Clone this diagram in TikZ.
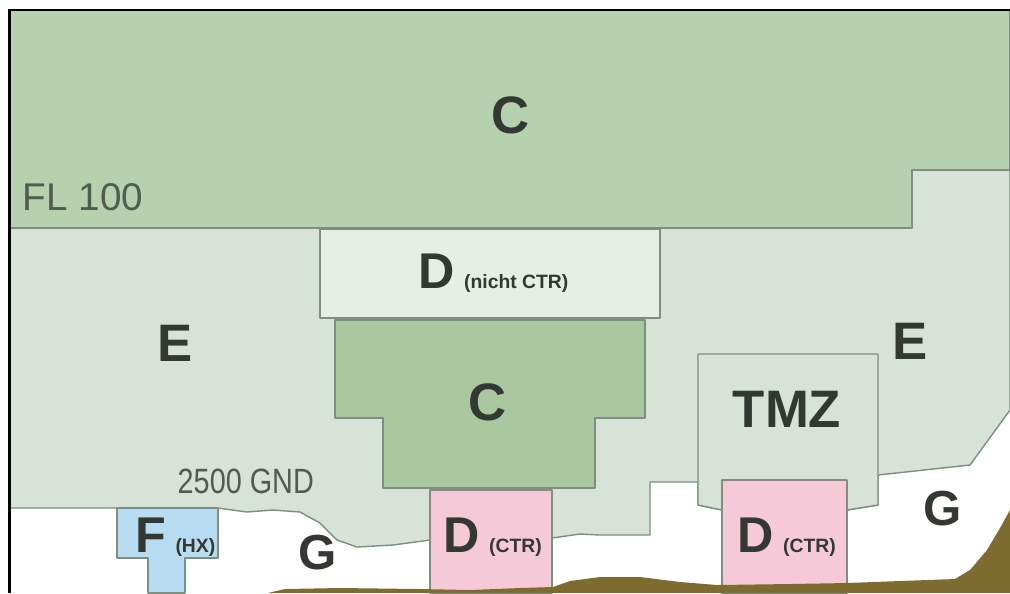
\documentclass[tikz,border=0pt]{standalone}
\usepackage{fontspec}
\setmainfont{Liberation Sans}
\usepackage{xcolor}
\usepackage{tikz}
\definecolor{airspaceGreen}{HTML}{B5D1AD}
\definecolor{airspaceDeep}{HTML}{A9C8A0}
\definecolor{airspaceGrey}{HTML}{D6E3D6}
\definecolor{airspacePale}{HTML}{E6EFE3}
\definecolor{airspacePink}{HTML}{F6C9D8}
\definecolor{airspaceBlue}{HTML}{B8DCF2}
\definecolor{airspaceSoil}{HTML}{7E6B30}
\definecolor{airspaceEdge}{HTML}{7E8E80}
\definecolor{airspaceInk}{HTML}{333833}
\definecolor{airspaceNote}{HTML}{4F5C50}
\newcommand{\zonetag}[1]{\hspace{2.6pt}{\fontsize{5.5}{6}\selectfont #1}}
\tikzset{
  zone/.style={
    draw=airspaceEdge,
    line width=0.4pt,
    line join=round
  },
  zoneC/.style={zone, fill=airspaceGreen},
  zoneCinner/.style={zone, fill=airspaceDeep},
  zoneD/.style={zone, fill=airspacePale},
  zoneE/.style={zone, fill=airspaceGrey},
  zoneCtr/.style={zone, fill=airspacePink},
  zoneF/.style={zone, fill=airspaceBlue},
  soil/.style={fill=airspaceSoil},
  bigLetter/.style={
    inner sep=0pt,
    text=airspaceInk,
    font=\bfseries\fontsize{15}{18}\selectfont
  },
  classLetter/.style={
    inner sep=0pt,
    anchor=base west,
    text=airspaceInk,
    font=\bfseries\fontsize{14.3}{17}\selectfont
  },
  levelNote/.style={
    inner sep=0pt,
    anchor=base west,
    text=airspaceNote
  }
}

\begin{document}
\begin{tikzpicture}[x=0.1mm,y=-0.1mm]
  \useasboundingbox (0,0) rectangle (1010,593);
  \fill[white] (0,0) rectangle (1010,593);
  \draw[zoneE] (9,228) -- (912,228) -- (912,170) -- (1010,170) -- (1010,410)
    -- (970,465) -- (878,475) -- (878,505) -- (847,510) -- (722,510) -- (698,505)
    -- (698,482) -- (650,482) -- (650,535) -- (600,535) -- (580,534) -- (552,538)
    -- (430,540) -- (393,545) -- (357,547) -- (337,540) -- (320,523) -- (300,512)
    -- (273,510) -- (247,512) -- (218,508) -- (9,508) -- cycle;
  \draw[zoneC] (9,10) -- (1010,10) -- (1010,170) -- (912,170) -- (912,228)
    -- (9,228) -- cycle;
  \draw[zoneD] (320,229) rectangle (660,318);
  \draw[zoneCinner] (335,320) -- (645,320) -- (645,418) -- (595,418) -- (595,488)
    -- (383,488) -- (383,418) -- (335,418) -- cycle;
  \draw[zoneE] (698,354) -- (878,354) -- (878,505) -- (847,510) -- (722,510)
    -- (698,505) -- cycle;
  \draw[zoneCtr] (430,490) rectangle (552,593);
  \draw[zoneCtr] (722,480) rectangle (847,593);
  \draw[zoneF] (117,508) -- (218,508) -- (218,558) -- (185,558) -- (185,593)
    -- (148,593) -- (148,558) -- (117,558) -- cycle;
  \fill[soil] (268,593) -- (285,589) -- (340,588) -- (420,589) -- (470,590)
    -- (520,588) -- (553,587) -- (570,581) -- (600,577) -- (640,577) -- (680,582)
    -- (717,585) -- (790,584) -- (847,583) -- (900,581) -- (955,579) -- (970,570)
    -- (987,550) -- (1000,528) -- (1010,510) -- (1010,593) -- cycle;
  \draw[line width=0.8pt] (9.5,593) -- (9.5,10) -- (1010,10);

  \node[bigLetter] (cTop) at (511,115) {C};
  \node[levelNote, font=\fontsize{11}{13}\selectfont] (fl100) at (22,210) {FL 100};
  \node[classLetter] (dNoCtr) at (418,288) {D\zonetag{(nicht CTR)}};
  \node[bigLetter] (eLeft) at (175,343) {E};
  \node[bigLetter] (eRight) at (910,341) {E};
  \node[bigLetter] (cMid) at (488,402) {C};
  \node[bigLetter] (tmz) at (787,409) {TMZ};
  \node[levelNote, font=\fontsize{10}{12}\selectfont] (gnd) at (177,493)
    {\scalebox{0.82}[1]{2500 GND}};
  \node[classLetter] (fHx) at (135,552) {F\zonetag{(HX)}};
  \node[bigLetter, font=\bfseries\fontsize{14}{17}\selectfont] (gMid) at (318,553) {G};
  \node[bigLetter, font=\bfseries\fontsize{14}{17}\selectfont] (gRight) at (943,509) {G};
  \node[classLetter] (dCtrLeft) at (443,552) {D\zonetag{(CTR)}};
  \node[classLetter] (dCtrRight) at (737,552) {D\zonetag{(CTR)}};
\end{tikzpicture}
\end{document}
